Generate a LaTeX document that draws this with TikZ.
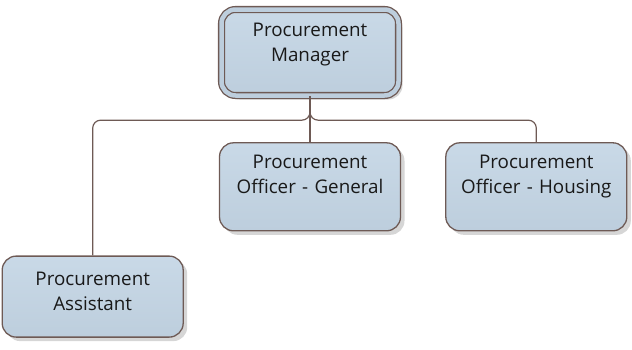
\documentclass[tikz,border=0pt]{standalone}
\usepackage{fontspec}
\setmainfont{Open Sans}
\usepackage{xcolor}
\usepackage{tikz}
\usetikzlibrary{shadows, positioning}

\definecolor{boxfill}{HTML}{BDCEDD}
\definecolor{boxtop}{HTML}{C9D9E7}
\definecolor{boxline}{HTML}{6E5A55}

\begin{document}
\begin{tikzpicture}[node distance=1cm, auto]
    
    % Define style for boxes
    \tikzstyle{role} = [rectangle, rounded corners=14pt, draw=boxline, line width=1.3pt, top color=boxtop, bottom color=boxfill, general shadow={shadow xshift=4pt, shadow yshift=-4pt, fill=black!16}, inner xsep=5pt, inner ysep=0pt, text width=171pt, align=center, text height=26pt, text depth=62pt, font=\fontsize{18.8}{25}\selectfont, text=black!90]
    \tikzstyle{head} = [role, double=boxfill, double distance=4.5pt, text width=167pt, text height=27pt, text depth=59pt]
    \tikzstyle{link} = [draw=boxline, line width=1.2pt, rounded corners=8pt]
    
    \useasboundingbox (0,0) rectangle (632pt,-349pt);
    
    % Nodes
    \node (manager) [head] at (310pt,-52.5pt) {Procurement\\Manager};
    \node (officergen) [role, below=46pt of manager] {Procurement\\Officer - General};
    \node (officerhouse) [role, right=44pt of officergen] {Procurement\\Officer - Housing};
    \node (assistant) [role, below left=24pt and 35pt of officergen, text height=29pt, text depth=52pt] {Procurement\\Assistant};
    
    \coordinate[below=24pt of manager] (split);
    
    % Lines
    \draw[link] (manager) -- (officergen);
    \draw[link] (manager.south) -- (split) -| (assistant);
    \draw[link] (manager.south) -- (split) -| (officerhouse);
    
\end{tikzpicture}
\end{document}
